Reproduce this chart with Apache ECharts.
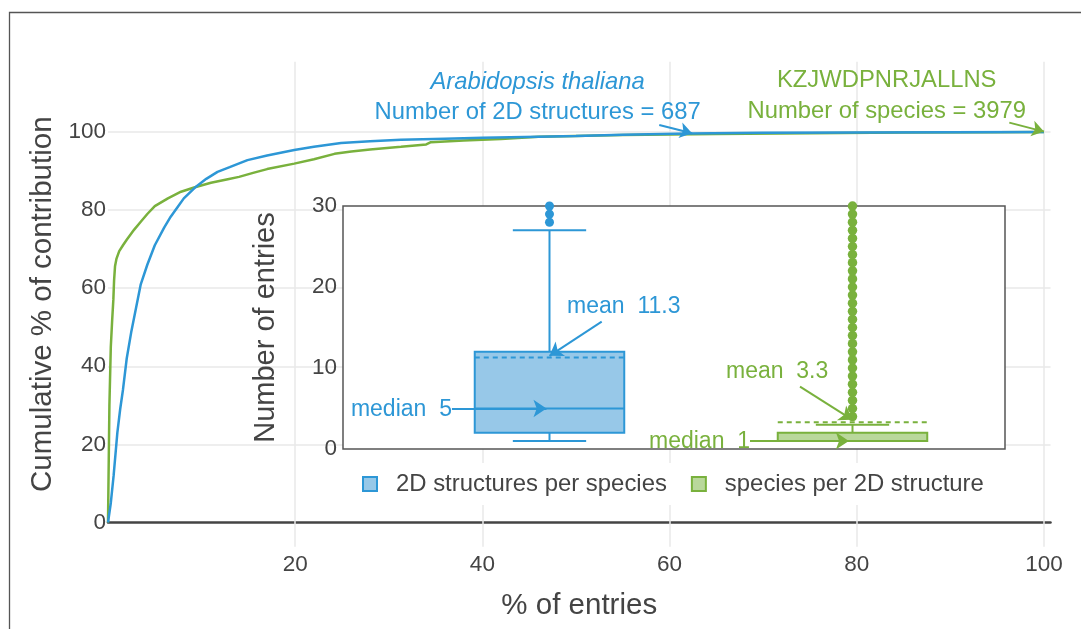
<!DOCTYPE html>
<html>
<head>
<meta charset="utf-8">
<script src="https://cdn.jsdelivr.net/npm/echarts@6/dist/echarts.min.js"></script>
<style>
html,body{margin:0;padding:0;background:#fff;}
#chart{width:1081px;height:629px;}
</style>
</head>
<body>
<div id="chart"></div>
<script>
// ---------- data ----------
const blueX = [0, 0.3, 0.6, 1.0, 1.3, 1.6, 2.0, 2.5, 3.0, 3.5, 4.2, 5.0, 6.0, 6.7, 7.5, 8.1, 9.4, 10.5, 11.7, 13, 14.9, 17, 19.9, 22, 24.9, 28, 31.3, 36, 40, 46, 50, 55, 62, 70, 80, 90, 100];
const blueY = [0, 5, 12, 23, 29, 34, 42, 49, 55, 61, 66, 71, 75.5, 78.3, 81, 83, 86, 88, 89.8, 91, 92.8, 94, 95.4, 96.2, 97.2, 97.6, 98, 98.3, 98.5, 98.8, 99, 99.3, 99.6, 99.8, 99.9, 99.95, 100];
const greenX = [0, 0.05, 0.15, 0.3, 0.45, 0.57, 0.65, 0.75, 0.9, 1.2, 1.6, 2.0, 2.8, 3.5, 4.2, 5.0, 6.4, 7.8, 9.2, 11, 12.8, 14, 15.6, 17, 19.9, 22, 24.2, 26, 28, 31.3, 34, 34.5, 38, 42, 46, 55, 65, 75, 85, 95, 100];
const greenY = [0, 10, 30, 45, 52, 57, 62, 65.6, 67.5, 69.5, 71, 72.4, 75, 77, 79, 81, 83, 84.7, 85.8, 87, 87.9, 88.5, 89.6, 90.5, 91.9, 93, 94.4, 95, 95.5, 96.2, 96.8, 97.4, 97.8, 98.2, 98.8, 99.2, 99.5, 99.7, 99.85, 99.95, 100];
const xTicks = [20, 40, 60, 80, 100];
const yTicks = [0, 20, 40, 60, 80, 100];

const boxNames = ['2D structures per species', 'species per 2D structure'];
const boxPos = [1, 2];
const boxLow = [1, 1];
const boxQ1 = [2, 1];
const boxMedian = [5, 1];
const boxQ3 = [12, 2];
const boxHigh = [27, 3];
const boxMean = [11.3, 3.3];
const blueOutliers = [28, 29, 30];
const greenOutliers = [4, 5, 6, 7, 8, 9, 10, 11, 12, 13, 14, 15, 16, 17, 18, 19, 20, 21, 22, 23, 24, 25, 26, 27, 28, 29, 30];

// ---------- style ----------
const BLUE = '#2d97d6', BLUE_FILL = '#97c8e8';
const GREEN = '#79b13d', GREEN_FILL = '#b9d89b';
const FONT = 'Liberation Sans, Arial, sans-serif';
const TXT = '#444';

const zip = (a, b) => a.map((v, i) => [v, b[i]]);

function boxRenderer(stroke, fill) {
  return function (params, api) {
    const x = api.value(0);
    const lo = api.value(1), q1 = api.value(2), med = api.value(3), q3 = api.value(4), hi = api.value(5), mean = api.value(6);
    const hw = 0.2467, cw = 0.121;
    const tl = api.coord([x - hw, q3]);
    const br = api.coord([x + hw, q1]);
    const c = (xx, yy) => api.coord([xx, yy]);
    const ls = { stroke: stroke, lineWidth: 2, fill: null };
    const line = (a, b, extra) => ({ type: 'line', shape: { x1: a[0], y1: a[1], x2: b[0], y2: b[1] }, style: Object.assign({}, ls, extra || {}) });
    return {
      type: 'group',
      children: [
        line(c(x, q3), c(x, hi)),
        line(c(x - cw, hi), c(x + cw, hi)),
        line(c(x, q1), c(x, lo)),
        line(c(x - cw, lo), c(x + cw, lo)),
        { type: 'rect', shape: { x: tl[0], y: tl[1], width: br[0] - tl[0], height: br[1] - tl[1] }, style: { fill: fill, stroke: stroke, lineWidth: 2 } },
        line(c(x - hw, med), c(x + hw, med)),
        line(c(x - hw, mean), c(x + hw, mean), { lineDash: [5, 4] })
      ]
    };
  };
}

function boxData(i) {
  return [[boxPos[i], boxLow[i], boxQ1[i], boxMedian[i], boxQ3[i], boxHigh[i], boxMean[i]]];
}

function arrow(color, from, to) {
  return [{ coord: from }, { coord: to, lineStyle: { color: color, width: 2 } }];
}

const chart = echarts.init(document.getElementById('chart'), null, { renderer: 'canvas' });
const option = {
  animation: false,
  backgroundColor: '#fff',
  textStyle: { fontFamily: FONT },
  graphic: [{
    type: 'rect', silent: true, z: 100,
    shape: { x: 9.5, y: 12.5, width: 1100, height: 700 },
    style: { fill: null, stroke: '#555', lineWidth: 1.3 }
  }],
  grid: [
    { left: 108, right: 30.5, top: 61.7, bottom: 82.3, outerBoundsMode: 'none', containLabel: false },
    { left: 343, right: 76, top: 206, bottom: 180, outerBoundsMode: 'none', containLabel: false, show: true, backgroundColor: '#fff', borderColor: '#555', borderWidth: 1.5, z: 3 }
  ],
  legend: {
    left: 352, top: 463, z: 10,
    backgroundColor: '#fff', padding: [9, 10, 9, 10],
    itemWidth: 14, itemHeight: 14, itemGap: 24,
    textStyle: { fontSize: 23.9, color: TXT, fontFamily: FONT, padding: [0, 0, 0, 14] },
    data: [
      { name: boxNames[0], icon: 'rect', itemStyle: { color: BLUE_FILL, borderColor: BLUE, borderWidth: 2 } },
      { name: boxNames[1], icon: 'rect', itemStyle: { color: GREEN_FILL, borderColor: GREEN, borderWidth: 2 } }
    ]
  },
  xAxis: [
    {
      type: 'value', gridIndex: 0, min: 0, max: 100.7,
      name: '% of entries', nameLocation: 'middle', nameGap: 44,
      nameTextStyle: { fontSize: 29.5, color: TXT, fontFamily: FONT },
      axisLine: { show: true, onZero: true, lineStyle: { color: '#444', width: 2.5 } },
      axisTick: { show: false },
      splitLine: { show: false },
      axisLabel: { customValues: xTicks, margin: 7, fontSize: 22.5, color: TXT, fontFamily: FONT }
    },
    {
      type: 'value', gridIndex: 1, min: 0.3185, max: 2.5033, show: false
    }
  ],
  yAxis: [
    {
      type: 'value', gridIndex: 0, min: -6.2, max: 118,
      name: 'Cumulative % of contribution', nameLocation: 'middle', nameGap: 42,
      nameTextStyle: { fontSize: 29.5, color: TXT, fontFamily: FONT },
      axisLine: { show: false }, axisTick: { show: false }, splitLine: { show: false },
      axisLabel: { customValues: yTicks, margin: 2, fontSize: 22.5, color: TXT, fontFamily: FONT }
    },
    {
      type: 'value', gridIndex: 1, min: 0, max: 30, interval: 10, z: 6,
      name: 'Number of entries', nameLocation: 'middle', nameGap: 63,
      nameTextStyle: { fontSize: 29, color: TXT, fontFamily: FONT },
      axisLine: { show: false }, axisTick: { show: false }, splitLine: { show: false },
      axisLabel: { margin: 6, fontSize: 22.5, color: TXT, fontFamily: FONT }
    }
  ],
  series: [
    {
      type: 'line', xAxisIndex: 0, yAxisIndex: 0, z: 1, silent: true,
      data: [[0, 0]], showSymbol: false, lineStyle: { opacity: 0 },
      markLine: {
        z: 1, silent: true, symbol: ['none', 'none'], label: { show: false },
        lineStyle: { color: '#e8e8e8', width: 1.5, type: 'solid' },
        data: xTicks.map(v => ({ xAxis: v })).concat(yTicks.filter(v => v > 0).map(v => ({ yAxis: v })))
      }
    },
    {
      name: 'green cumulative', type: 'line', xAxisIndex: 0, yAxisIndex: 0, z: 2,
      data: zip(greenX, greenY), showSymbol: false, smooth: false,
      lineStyle: { color: GREEN, width: 2.5 },
      markLine: {
        z: 6, silent: true, symbol: ['none', 'arrow'], symbolSize: 12, label: { show: false },
        lineStyle: { color: GREEN, width: 2, type: 'solid' },
        data: [arrow(GREEN, [96.3, 102.4], [100, 100.1])]
      },
      markPoint: {
        z: 6, symbol: 'circle', symbolSize: 1, itemStyle: { color: 'rgba(0,0,0,0)' },
        data: [{
          coord: [83.2, 109.25],
          label: {
            show: true, position: 'inside', align: 'center', verticalAlign: 'middle',
            formatter: '{a|KZJWDPNRJALLNS}\n{a|Number of species = 3979}',
            rich: { a: { fontSize: 23.8, color: GREEN, fontFamily: FONT, lineHeight: 31, align: 'center' } }
          }
        }]
      }
    },
    {
      name: 'blue cumulative', type: 'line', xAxisIndex: 0, yAxisIndex: 0, z: 2,
      data: zip(blueX, blueY), showSymbol: false, smooth: false,
      lineStyle: { color: BLUE, width: 2.5 },
      markLine: {
        z: 6, silent: true, symbol: ['none', 'arrow'], symbolSize: 12, label: { show: false },
        lineStyle: { color: BLUE, width: 2, type: 'solid' },
        data: [arrow(BLUE, [58.9, 101.8], [62.4, 99.7])]
      },
      markPoint: {
        z: 6, symbol: 'circle', symbolSize: 1, itemStyle: { color: 'rgba(0,0,0,0)' },
        data: [{
          coord: [45.9, 108.85],
          label: {
            show: true, position: 'inside', align: 'center', verticalAlign: 'middle',
            formatter: '{i|Arabidopsis thaliana}\n{a|Number of 2D structures = 687}',
            rich: {
              i: { fontSize: 23.8, color: BLUE, fontFamily: FONT, fontStyle: 'italic', lineHeight: 30, align: 'center' },
              a: { fontSize: 23.8, color: BLUE, fontFamily: FONT, lineHeight: 30, align: 'center' }
            }
          }
        }]
      }
    },
    {
      name: boxNames[0], type: 'custom', xAxisIndex: 1, yAxisIndex: 1, z: 4,
      itemStyle: { color: BLUE_FILL, borderColor: BLUE },
      renderItem: boxRenderer(BLUE, BLUE_FILL),
      encode: { x: 0, y: [1, 2, 3, 4, 5, 6] },
      data: boxData(0)
    },
    {
      name: boxNames[1], type: 'custom', xAxisIndex: 1, yAxisIndex: 1, z: 4,
      itemStyle: { color: GREEN_FILL, borderColor: GREEN },
      renderItem: boxRenderer(GREEN, GREEN_FILL),
      encode: { x: 0, y: [1, 2, 3, 4, 5, 6] },
      data: boxData(1)
    },
    {
      name: 'blue outliers', type: 'scatter', xAxisIndex: 1, yAxisIndex: 1, z: 5,
      symbolSize: 9, itemStyle: { color: BLUE, opacity: 1 }, clip: true,
      data: blueOutliers.map(v => [boxPos[0], v]),
      markLine: {
        z: 7, silent: true, symbol: ['none', 'arrow'], symbolSize: 13, label: { show: false },
        lineStyle: { color: BLUE, width: 2, type: 'solid' },
        data: [arrow(BLUE, [1.1723, 15.72], [1.0, 11.5]), arrow(BLUE, [0.678, 5], [0.99, 5])]
      },
      markPoint: {
        z: 7, symbol: 'circle', symbolSize: 1, itemStyle: { color: 'rgba(0,0,0,0)' },
        label: { show: true, position: 'inside', fontSize: 23, color: BLUE, fontFamily: FONT, verticalAlign: 'middle' },
        data: [
          { coord: [1.058, 17.57], label: { align: 'left', formatter: 'mean  11.3' } },
          { coord: [0.678, 4.85], label: { align: 'right', formatter: 'median  5' } }
        ]
      }
    },
    {
      name: 'green outliers', type: 'scatter', xAxisIndex: 1, yAxisIndex: 1, z: 5,
      symbolSize: 9.5, itemStyle: { color: GREEN, opacity: 1 }, clip: true,
      data: greenOutliers.map(v => [boxPos[1], v]),
      markLine: {
        z: 7, silent: true, symbol: ['none', 'arrow'], symbolSize: 13, label: { show: false },
        lineStyle: { color: GREEN, width: 2, type: 'solid' },
        data: [arrow(GREEN, [1.8268, 7.69], [2.0, 3.6]), arrow(GREEN, [1.6617, 1], [1.988, 1])]
      },
      markPoint: {
        z: 7, symbol: 'circle', symbolSize: 1, itemStyle: { color: 'rgba(0,0,0,0)' },
        label: { show: true, position: 'inside', fontSize: 23, color: GREEN, fontFamily: FONT, verticalAlign: 'middle' },
        data: [
          { coord: [1.5825, 9.54], label: { align: 'left', formatter: 'mean  3.3' } },
          { coord: [1.6617, 0.9], label: { align: 'right', formatter: 'median  1' } }
        ]
      }
    }
  ]
};
chart.setOption(option);
</script>
</body>
</html>
